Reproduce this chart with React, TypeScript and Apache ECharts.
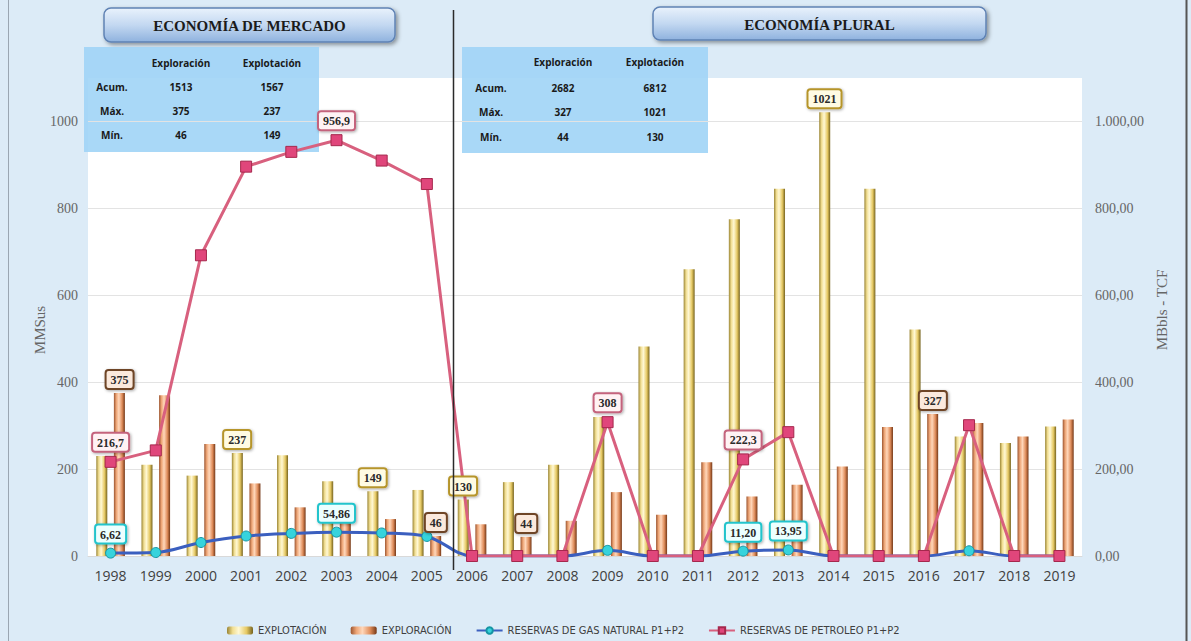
import React, { useEffect, useRef } from "react";
import * as echarts from "echarts";

const years = ["1998", "1999", "2000", "2001", "2002", "2003", "2004", "2005", "2006", "2007", "2008", "2009", "2010", "2011", "2012", "2013", "2014", "2015", "2016", "2017", "2018", "2019"];
const explotacion = [230, 210, 185, 237, 232, 172, 149, 152, 130, 170, 210, 320, 482, 660, 775, 845, 1021, 845, 521, 275, 260, 298];
const exploracion = [375, 370, 258, 167, 112, 100, 85, 46, 73, 44, 81, 147, 95, 216, 137, 164, 206, 297, 327, 306, 275, 314];
const petroleo = [216.7, 243, 692, 896, 930, 956.9, 910, 856, 0, 0, 0, 308, 0, 0, 222.3, 285, 0, 0, 0, 301, 0, 0];
const gas = [6.62, 8, 31, 46, 52, 54.86, 53, 45, 0, 0, 0, 13, 0, 0, 11.2, 13.95, 0, 0, 0, 12, 0, 0];

const explotLabelIdx = [3, 6, 8, 16];
const explorLabelIdx = [0, 7, 9, 18];
const petroLabelIdx = [0, 5, 11, 14];
const gasLabelIdx = [0, 5, 14, 15];

const tableHeaders = ["Exploración", "Explotación"];
const rowLabels = ["Acum.", "Máx.", "Mín."];
const mercadoTable = [[1513, 1567], [375, 237], [46, 149]];
const pluralTable = [[2682, 6812], [327, 1021], [44, 130]];

const fmtES = (v: number, d: number) => {
  const s = v.toFixed(d);
  const [i, f] = s.split(".");
  const ii = i.replace(/\B(?=(\d{3})+(?!\d))/g, ".");
  return f ? ii + "," + f : ii;
};

const serif = "Liberation Serif, DejaVu Serif, serif";
const tableFont = "Open Sans, Noto Sans, sans-serif";

const labelBox = (bg: string, border: string) => ({
  show: true,
  position: "top",
  distance: 5,
  opacity: 1,
  backgroundColor: bg,
  borderColor: border,
  borderWidth: 2,
  borderRadius: 2,
  padding: [3, 4, 2, 4],
  color: "#2a2a2a",
  fontFamily: serif,
  fontWeight: "bold",
  fontSize: 12,
  shadowColor: "rgba(0,0,0,0.35)",
  shadowBlur: 3,
  shadowOffsetX: 1,
  shadowOffsetY: 1,
});

const withLabels = (vals: number[], idx: number[], lbl: any) =>
  vals.map((v, i) => (idx.includes(i) ? { value: v, label: lbl } : { value: v }));

const barLabelPoints = (vals: number[], idx: number[]) => idx.map((i) => [years[i], vals[i]]);

function tableGraphic(x: number, y: number, w: number, h: number, cols: number[], rowsY: number[], data: number[][]) {
  const children: any[] = [
    { type: "rect", shape: { x, y, width: w, height: h }, style: { fill: "rgba(160,212,246,0.9)" } },
  ];
  tableHeaders.forEach((t, j) => {
    children.push({ type: "text", x: cols[j + 1], y: rowsY[0], style: { text: t, fill: "#1a1a1a", font: `bold 10px ${tableFont}`, align: "center", verticalAlign: "middle" } });
  });
  rowLabels.forEach((r, i) => {
    children.push({ type: "text", x: cols[0], y: rowsY[i + 1], style: { text: r, fill: "#1a1a1a", font: `bold 10px ${tableFont}`, align: "center", verticalAlign: "middle" } });
    data[i].forEach((v, j) => {
      children.push({ type: "text", x: cols[j + 1], y: rowsY[i + 1], style: { text: String(v), fill: "#1a1a1a", font: `bold 10px ${tableFont}`, align: "center", verticalAlign: "middle" } });
    });
  });
  return { type: "group", z: 100, children };
}

function titleBox(x: number, y: number, w: number, h: number, text: string) {
  return {
    type: "group",
    z: 100,
    children: [
      {
        type: "rect",
        shape: { x, y, width: w, height: h, r: 7 },
        style: {
          fill: new echarts.graphic.LinearGradient(0, 0, 0, 1, [
            { offset: 0, color: "#e9f2fc" },
            { offset: 0.5, color: "#c3d8f1" },
            { offset: 1, color: "#8fb2de" },
          ]),
          stroke: "#5f82b4",
          lineWidth: 1.5,
          shadowColor: "rgba(0,0,0,0.4)",
          shadowBlur: 4,
          shadowOffsetX: 2,
          shadowOffsetY: 2,
        },
      },
      { type: "text", x: x + w / 2, y: y + h / 2 + 1, style: { text, fill: "#1b1b1b", font: `bold 15px ${serif}`, align: "center", verticalAlign: "middle" } },
    ],
  };
}

export default function App() {
  const ref = useRef<HTMLDivElement>(null);
  useEffect(() => {
    if (!ref.current) return;
    const chart = echarts.init(ref.current, undefined, { renderer: "svg" });
    const yellow = new echarts.graphic.LinearGradient(0, 0, 1, 0, [
      { offset: 0, color: "#9a8534" },
      { offset: 0.22, color: "#f1de92" },
      { offset: 0.45, color: "#fff8d4" },
      { offset: 0.75, color: "#e6c964" },
      { offset: 1, color: "#76631e" },
    ]);
    const orange = new echarts.graphic.LinearGradient(0, 0, 1, 0, [
      { offset: 0, color: "#9c5530" },
      { offset: 0.22, color: "#eea677" },
      { offset: 0.45, color: "#ffd7ba" },
      { offset: 0.75, color: "#df8c5a" },
      { offset: 1, color: "#743817" },
    ]);
    const option: any = {
      animation: false,
      backgroundColor: "#dcebf7",
      grid: { left: 88, right: 109, top: 78, bottom: 85, show: true, backgroundColor: "#ffffff", borderWidth: 0 },
      legend: {
        left: 222,
        top: 620,
        itemGap: 24,
        itemWidth: 26,
        itemHeight: 8,
        textStyle: { fontFamily: "Liberation Sans Narrow, DejaVu Sans Condensed, Liberation Sans, sans-serif", fontSize: 11, color: "#404040" },
        data: ["EXPLOTACIÓN", "EXPLORACIÓN", "RESERVAS DE GAS NATURAL P1+P2", "RESERVAS DE PETROLEO P1+P2"],
      },
      xAxis: {
        type: "category",
        data: years,
        axisLine: { show: true, lineStyle: { color: "#d9d9d9" } },
        axisTick: { show: false },
        axisLabel: { color: "#404040", fontFamily: "Open Sans, sans-serif", fontSize: 14, margin: 12 },
      },
      yAxis: [
        {
          type: "value",
          min: 0,
          max: 1100,
          interval: 200,
          axisLine: { show: false },
          axisTick: { show: false },
          splitLine: { show: true, showMaxLine: false, lineStyle: { color: "#e3e3e3" } },
          axisLabel: {
            color: "#666666",
            fontFamily: serif,
            fontSize: 14,
            margin: 10,
            showMaxLabel: false,
            formatter: (v: number) => (v > 1000 ? "" : String(v)),
          },
        },
        {
          type: "value",
          min: 0,
          max: 1100,
          interval: 200,
          axisLine: { show: false },
          axisTick: { show: false },
          splitLine: { show: false },
          axisLabel: {
            color: "#666666",
            fontFamily: serif,
            fontSize: 14,
            margin: 13,
            showMaxLabel: false,
            formatter: (v: number) => (v > 1000 ? "" : fmtES(v, 2)),
          },
        },
      ],
      series: [
        {
          name: "EXPLOTACIÓN",
          type: "bar",
          barWidth: 11,
          barGap: "60%",
          itemStyle: { color: yellow },
          data: explotacion,
          z: 2,
        },
        {
          name: "EXPLORACIÓN",
          type: "bar",
          barWidth: 11,
          itemStyle: { color: orange },
          data: exploracion,
          z: 2,
        },
        {
          name: "RESERVAS DE GAS NATURAL P1+P2",
          type: "line",
          yAxisIndex: 1,
          smooth: 0.35,
          symbol: "circle",
          symbolSize: 10,
          lineStyle: { color: "#3b5fbf", width: 3 },
          itemStyle: { color: "#36d3dc", borderColor: "#1595a3", borderWidth: 1 },
          data: withLabels(gas, gasLabelIdx, { ...labelBox("#ecffff", "#22c4cc"), formatter: (p: any) => fmtES(p.value, 2) }),
          z: 3,
        },
        {
          name: "RESERVAS DE PETROLEO P1+P2",
          type: "line",
          yAxisIndex: 1,
          symbol: "rect",
          symbolSize: 11,
          lineStyle: { color: "#d8607e", width: 3 },
          itemStyle: { color: "#e0467b", borderColor: "#a5284d", borderWidth: 1 },
          data: withLabels(petroleo, petroLabelIdx, {
            ...labelBox("#fff2f4", "#c4647d"),
            formatter: (p: any) => (Number.isInteger(p.value) ? String(p.value) : fmtES(p.value, 1)),
          }),
          z: 4,
        },
        {
          name: "explotacion-labels",
          type: "scatter",
          symbolSize: 0,
          silent: true,
          z: 6,
          itemStyle: { opacity: 1 },
          label: { ...labelBox("#fffbe3", "#b6952c"), offset: [-9, 0], formatter: (p: any) => String(p.value[1]) },
          data: barLabelPoints(explotacion, explotLabelIdx),
        },
        {
          name: "exploracion-labels",
          type: "scatter",
          symbolSize: 0,
          silent: true,
          z: 6,
          itemStyle: { opacity: 1 },
          label: { ...labelBox("#fbe9dc", "#6e4426"), offset: [9, 0], formatter: (p: any) => String(p.value[1]) },
          data: barLabelPoints(exploracion, explorLabelIdx),
        },
      ],
      graphic: [
        { type: "line", z: 100, shape: { x1: 8.5, y1: 0, x2: 8.5, y2: 641 }, style: { stroke: "#9aa6b2", lineWidth: 1 } },
        { type: "line", z: 100, shape: { x1: 1186.5, y1: 0, x2: 1186.5, y2: 641 }, style: { stroke: "#555", lineWidth: 2 } },
        { type: "line", z: 100, shape: { x1: 453.5, y1: 10, x2: 453.5, y2: 570 }, style: { stroke: "#2a2a2a", lineWidth: 1.5 } },
        titleBox(104, 8, 291, 34, "ECONOMÍA DE MERCADO"),
        titleBox(653, 7, 333, 33, "ECONOMÍA PLURAL"),
        tableGraphic(84, 47, 235, 105, [112, 181, 272], [63, 87, 111, 135], mercadoTable),
        tableGraphic(462, 47, 246, 106, [491, 563, 655], [62, 88, 112, 137], pluralTable),
        {
          type: "text",
          z: 100,
          x: 40,
          y: 330,
          rotation: Math.PI / 2,
          style: { text: "MMSus", fill: "#666", font: `15px ${serif}`, align: "center", verticalAlign: "middle" },
        },
        {
          type: "text",
          z: 100,
          x: 1162,
          y: 310,
          rotation: Math.PI / 2,
          style: { text: "MBbls - TCF", fill: "#666", font: `15px ${serif}`, align: "center", verticalAlign: "middle" },
        },
      ],
    };
    chart.setOption(option);
    return () => chart.dispose();
  }, []);
  return <div ref={ref} style={{ position: "fixed", left: 0, top: 0, width: 1191, height: 641 }} />;
}
